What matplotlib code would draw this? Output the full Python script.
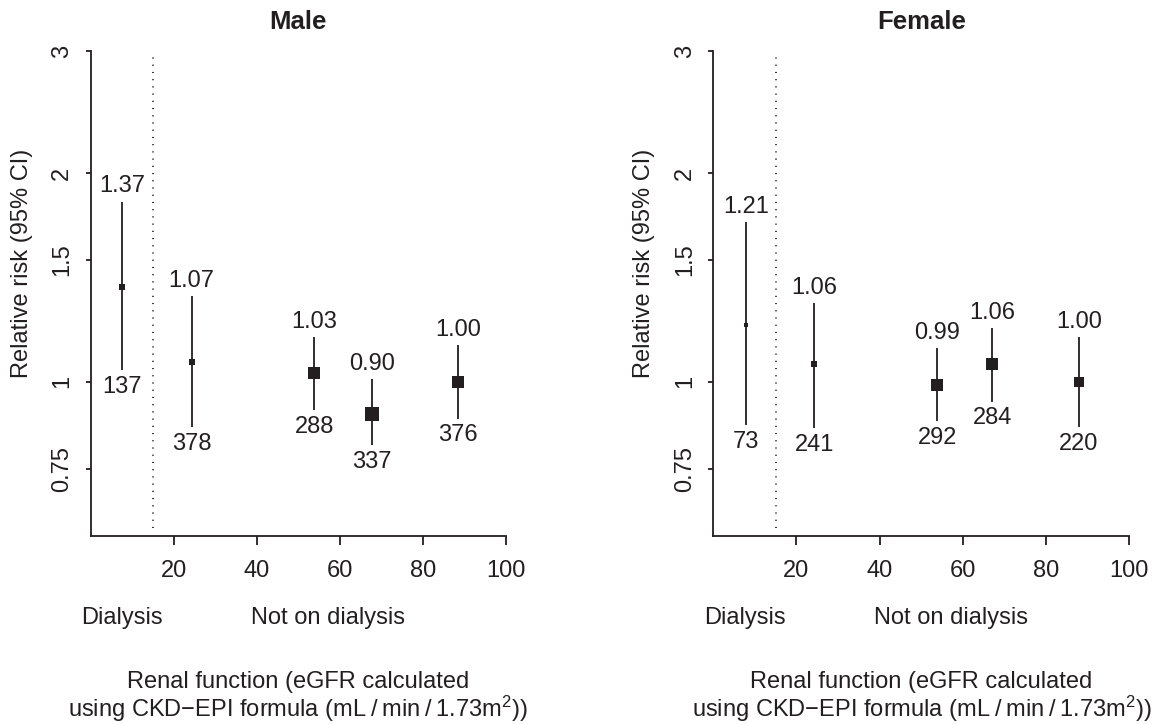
import matplotlib
matplotlib.use('Agg')
import matplotlib.pyplot as plt
import matplotlib.transforms as mtransforms

plt.rcParams['font.family'] = ['Liberation Sans', 'DejaVu Sans']
plt.rcParams['mathtext.fontset'] = 'custom'
plt.rcParams['mathtext.rm'] = 'Liberation Sans'
plt.rcParams['mathtext.it'] = 'Liberation Sans'

# data
egfr_male = [7.5, 24.3, 53.9, 67.8, 88.5]
rr_male = [1.37, 1.07, 1.03, 0.90, 1.00]
lo_male = [1.04, 0.86, 0.91, 0.81, 0.885]
hi_male = [1.82, 1.33, 1.16, 1.01, 1.13]
n_male = [137, 378, 288, 337, 376]

egfr_female = [7.8, 24.3, 53.8, 67.0, 87.9]
rr_female = [1.21, 1.06, 0.99, 1.06, 1.00]
lo_female = [0.866, 0.857, 0.878, 0.936, 0.861]
hi_female = [1.70, 1.30, 1.12, 1.195, 1.16]
n_female = [73, 241, 292, 284, 220]

y_ticks = [0.75, 1, 1.5, 2, 3]
y_ticklabels = ['0.75', '1', '1.5', '2', '3']
x_ticks = [20, 40, 60, 80, 100]
dialysis_cut = 15

# box sizes (points), proportional to precision
box_male = [3.8, 4.3, 8.6, 10.1, 8.6]
box_female = [2.9, 4.8, 8.6, 8.1, 7.2]

INK = '#231f20'
FS = 17


def panel(ax, title, x, rr, lo, hi, n, box):
    ax.set_yscale('log')
    ax.set_xlim(0, 100)
    ax.set_ylim(0.6, 3)
    ax.vlines(x, lo, hi, color=INK, lw=1.3)
    for xi, ri, bi in zip(x, rr, box):
        ax.plot(xi, ri, marker='s', ms=bi, color=INK, mew=0, ls='none')
    for xi, ri, li, hi_, ni in zip(x, rr, lo, hi, n):
        ax.annotate('%.2f' % ri, (xi, hi_), xytext=(0, 3), textcoords='offset points',
                    ha='center', va='bottom', fontsize=FS, color=INK)
        ax.annotate(str(ni), (xi, li), xytext=(0, -4), textcoords='offset points',
                    ha='center', va='top', fontsize=FS, color=INK)
    ax.axvline(dialysis_cut, ymin=0.015, ymax=0.99, color=INK, lw=1.3,
               ls=(0, (0.6, 3.4)))

    ax.spines['top'].set_visible(False)
    ax.spines['right'].set_visible(False)
    for s in ['left', 'bottom']:
        ax.spines[s].set_linewidth(1.3)
        ax.spines[s].set_color(INK)
    ax.minorticks_off()
    ax.set_yticks(y_ticks)
    ax.set_yticklabels(y_ticklabels)
    ax.yaxis.set_minor_locator(matplotlib.ticker.NullLocator())
    ax.set_xticks(x_ticks)
    ax.tick_params(axis='x', length=6.5, width=1.3, pad=11, labelsize=FS, colors=INK)
    ax.tick_params(axis='y', length=3.6, width=1.3, pad=9, labelsize=FS, colors=INK,
                   labelrotation=90)
    for lab in ax.get_yticklabels():
        lab.set_va('center')

    ax.text(0.5, 1.06, title, transform=ax.transAxes, ha='center', va='center',
            fontsize=18.5, fontweight='bold', color=INK)
    ax.text(-0.166, 0.5626, 'Relative risk (95% CI)', transform=ax.transAxes,
            rotation=90, ha='center', va='center', fontsize=FS, color=INK)

    tr = mtransforms.blended_transform_factory(ax.transData, ax.transAxes)
    ax.text(7.5, -0.170, 'Dialysis', transform=tr, ha='center', va='center',
            fontsize=FS, color=INK)
    ax.text(57.2, -0.170, 'Not on dialysis', transform=tr, ha='center', va='center',
            fontsize=FS, color=INK)
    ax.text(0.5, -0.3132, 'Renal function (eGFR calculated', transform=ax.transAxes,
            ha='center', va='baseline', fontsize=FS, color=INK)
    ax.text(0.5, -0.3745,
            'using CKD\u2212EPI formula (mL\u2009/\u2009min\u2009/\u20091.73m$^{2}$))',
            transform=ax.transAxes, ha='center', va='baseline', fontsize=FS, color=INK)


fig = plt.figure(figsize=(11.56, 7.24), dpi=100, facecolor='w')
ax1 = fig.add_axes([0.0785, 0.260, 0.359, 0.6695])
ax2 = fig.add_axes([0.617, 0.260, 0.360, 0.6695])

panel(ax1, 'Male', egfr_male, rr_male, lo_male, hi_male, n_male, box_male)
panel(ax2, 'Female', egfr_female, rr_female, lo_female, hi_female, n_female, box_female)

fig.savefig('out.png', dpi=100, facecolor='w')
